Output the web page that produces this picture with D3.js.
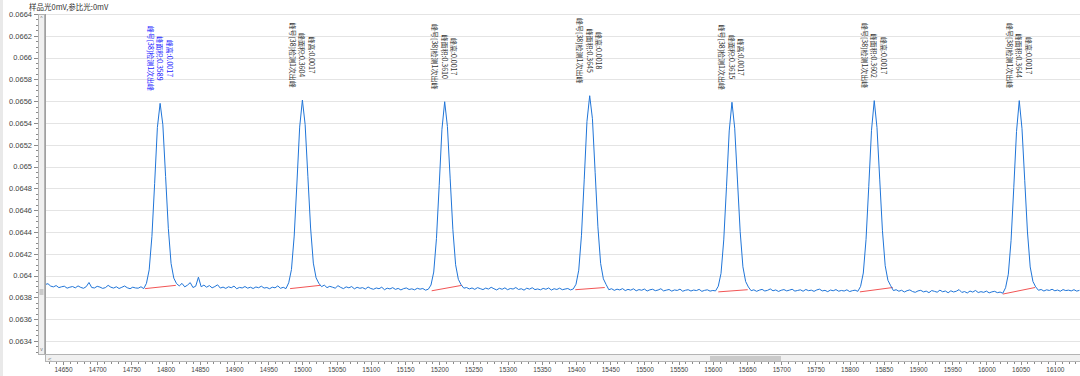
<!DOCTYPE html>
<html>
<head>
<meta charset="utf-8">
<script src="https://cdn.jsdelivr.net/npm/d3@7"></script>
<style>
  body { margin: 0; background: #fff; }
  svg { display: block; font-family: "Liberation Sans", "Noto Sans CJK SC", sans-serif; }
  .axis path, .axis line { stroke: #8a8a8a; shape-rendering: crispEdges; }
  .axis text { fill: #444; }
</style>
</head>
<body>
<div id="chart"></div>
<script>
// detector signal, sampled every 4 units starting at 14624 (values x 1e-6)
const signalStart = 14624;
const signalStep = 4;
const signalE6 = [
  63918,63925,63903,63896,63908,63889,63897,63902,63884,63893,
  63899,63887,63905,63891,63883,63898,63936,63890,63886,63901,
  63894,63882,63889,63910,63893,63885,63897,63881,63892,63904,
  63888,63879,63893,63886,63884,63897,63880,63928,64052,64359,
  64846,65359,65580,65383,64908,64433,64111,63976,63926,63905,
  63928,63896,63912,63935,63890,63902,63985,63897,63912,63893,
  63908,63887,63899,63915,63885,63894,63882,63897,63888,63903,
  63879,63891,63886,63899,63884,63893,63881,63895,63888,63902,
  63885,63890,63879,63893,63887,63905,63883,63892,63880,63934,
  64055,64362,64849,65362,65610,65386,64911,64436,64114,63979,
  63929,63898,63912,63889,63901,63893,63884,63907,63891,63880,
  63896,63887,63899,63878,63892,63883,63889,63876,63895,63881,
  63874,63886,63879,63893,63870,63884,63877,63889,63873,63882,
  63868,63880,63886,63872,63878,63869,63883,63875,63881,63866,
  63874,63913,64032,64340,64828,65342,65595,65368,64894,64420,
  64099,63965,63916,63884,63890,63877,63886,63873,63889,63880,
  63871,63885,63876,63892,63879,63868,63883,63874,63887,63870,
  63881,63876,63890,63872,63879,63866,63884,63875,63888,63871,
  63877,63869,63882,63874,63886,63867,63879,63872,63884,63870,
  63876,63881,63868,63877,63920,64049,64370,64878,65414,65650,
  65439,64943,64447,64111,63970,63918,63870,63879,63864,63875,
  63868,63880,63862,63873,63866,63878,63860,63871,63865,63876,
  63858,63869,63874,63861,63867,63879,63859,63866,63872,63857,
  63868,63863,63875,63856,63865,63870,63858,63867,63862,63873,
  63855,63864,63869,63857,63863,63859,63902,64020,64327,64814,
  65327,65590,65352,64877,64402,64080,63945,63895,63861,63869,
  63855,63866,63873,63858,63864,63877,63860,63868,63854,63865,
  63871,63859,63866,63874,63857,63863,63869,63856,63872,63861,
  63866,63855,63868,63875,63859,63864,63852,63867,63860,63871,
  63856,63863,63858,63869,63853,63861,63866,63855,63900,64023,
  64331,64819,65333,65605,65359,64885,64411,64090,63956,63907,
  63862,63870,63856,63865,63849,63861,63868,63853,63846,63859,
  63864,63850,63857,63843,63862,63855,63847,63866,63851,63858,
  63842,63860,63849,63856,63871,63845,63853,63840,63858,63848,
  63863,63844,63852,63846,63857,63841,63850,63855,63843,63848,
  63838,63888,64012,64320,64808,65322,65605,65348,64874,64400,
  64079,63945,63896,63865,63872,63858,63869,63863,63874,63860,
  63867,63856,63871,63862,63866,63859,63870,63857,63864
];

// peaks
const peakApexX = [14792, 15000, 15208, 15420, 15628, 15836, 16048];
const peakApexY = [0.06558, 0.06561, 0.065595, 0.06565, 0.06559, 0.065605, 0.065605];
const peakNames = ["峰号[38]检测1次出峰", "峰号[38]检测1次出峰", "峰号[38]检测1次出峰", "峰号[38]检测1次出峰",
                   "峰号[38]检测1次出峰", "峰号[38]检测1次出峰", "峰号[38]检测1次出峰"];
const peakAreas = ["0.3589", "0.3604", "0.3610", "0.3645", "0.3615", "0.3602", "0.3644"];
const peakHeights = ["0.0017", "0.0017", "0.0017", "0.0018", "0.0017", "0.0017", "0.0017"];

// baseline segments (red)
const baseStartX = [14770, 14982, 15189, 15399, 15608, 15815, 16024];
const baseStartY = [0.06388, 0.06388, 0.06386, 0.06387, 0.06385, 0.06385, 0.06383];
const baseEndX = [14815, 15026, 15233, 15442, 15651, 15863, 16071];
const baseEndY = [0.06391, 0.06391, 0.06391, 0.06389, 0.06387, 0.06389, 0.06389];

// axis ticks
const yTicks = [0.0634, 0.0636, 0.0638, 0.064, 0.0642, 0.0644, 0.0646, 0.0648,
                0.065, 0.0652, 0.0654, 0.0656, 0.0658, 0.066, 0.0662, 0.0664];
const yTickLabels = ["0.0634", "0.0636", "0.0638", "0.064", "0.0642", "0.0644", "0.0646", "0.0648",
                     "0.065", "0.0652", "0.0654", "0.0656", "0.0658", "0.066", "0.0662", "0.0664"];
const xTicks = [14650, 14700, 14750, 14800, 14850, 14900, 14950, 15000, 15050, 15100,
                15150, 15200, 15250, 15300, 15350, 15400, 15450, 15500, 15550, 15600,
                15650, 15700, 15750, 15800, 15850, 15900, 15950, 16000, 16050, 16100];

const headerText = "样品光0mV,参比光:0mV";

// SETUP
const W = 1080, H = 376;
const plot = { left: 45, right: 1080, top: 14, bottom: 354 };

const svg = d3.select("#chart").append("svg")
    .attr("width", W)
    .attr("height", H);

const x = d3.scaleLinear()
    .domain([14623.7, 16136.8])
    .range([plot.left, plot.right]);

const y = d3.scaleLinear()
    .domain([0.06328, 0.06640])
    .range([plot.bottom, plot.top]);

const signal = signalE6.map((v, i) => ({ x: signalStart + i * signalStep, y: v / 1e6 }));

// left gray strip
svg.append("rect")
    .attr("x", 0).attr("y", 0)
    .attr("width", 3).attr("height", H)
    .attr("fill", "#e9e9e9");

// header
svg.append("text")
    .attr("x", 29)
    .attr("y", 10)
    .attr("font-size", 7.5)
    .attr("font-family", "Noto Sans CJK SC")
    .attr("fill", "#333")
    .text(headerText);

// gridlines
svg.append("g")
    .selectAll("line")
    .data(yTicks)
    .enter()
    .append("line")
    .attr("x1", plot.left)
    .attr("x2", plot.right)
    .attr("y1", d => Math.round(y(d)) + 0.5)
    .attr("y2", d => Math.round(y(d)) + 0.5)
    .attr("stroke", "#e4e4e4");

// plot border
svg.append("line")
    .attr("x1", plot.left + 0.5).attr("x2", plot.left + 0.5)
    .attr("y1", plot.top).attr("y2", plot.bottom)
    .attr("stroke", "#a0a0a0");

// clip
svg.append("clipPath").attr("id", "clip")
    .append("rect")
    .attr("x", plot.left + 1).attr("y", plot.top)
    .attr("width", plot.right - plot.left - 1)
    .attr("height", plot.bottom - plot.top);

const g = svg.append("g").attr("clip-path", "url(#clip)");

// red baselines
g.selectAll(".base")
    .data(baseStartX)
    .enter()
    .append("line")
    .attr("class", "base")
    .attr("x1", (d, i) => x(baseStartX[i]))
    .attr("y1", (d, i) => y(baseStartY[i]))
    .attr("x2", (d, i) => x(baseEndX[i]))
    .attr("y2", (d, i) => y(baseEndY[i]))
    .attr("stroke", "#f25555")
    .attr("stroke-width", 1);

// signal line
g.append("path")
    .datum(signal)
    .attr("d", d3.line().x(d => x(d.x)).y(d => y(d.y)))
    .attr("fill", "none")
    .attr("stroke", "#2075d8")
    .attr("stroke-width", 1);

// peak labels (rotated)
peakApexX.forEach((px, i) => {
    const cx = x(px);
    const cy = y(peakApexY[i]) - 45;
    const color = i === 0 ? "#1a1aff" : "#333";
    const lines = [peakNames[i], "峰面积:" + peakAreas[i], "峰高:" + peakHeights[i]];
    lines.forEach((t, j) => {
        svg.append("text")
            .attr("transform", `translate(${cx + (j - 1) * 9.5},${cy}) rotate(90)`)
            .attr("text-anchor", "middle")
            .attr("dominant-baseline", "central")
            .attr("font-size", 7)
            .attr("font-family", "Noto Sans CJK SC")
            .attr("fill", color)
            .text(t);
    });
});

// vertical scrollbar
svg.append("rect")
    .attr("x", 38.5).attr("y", plot.top + 0.5)
    .attr("width", 6).attr("height", plot.bottom - plot.top)
    .attr("fill", "#f0f0f0")
    .attr("stroke", "#b4b4b4");
svg.append("rect")
    .attr("x", 39.5).attr("y", 289)
    .attr("width", 4).attr("height", 6)
    .attr("fill", "#cacaca");
svg.append("text")
    .attr("x", 41.5).attr("y", 20)
    .attr("text-anchor", "middle")
    .attr("font-size", 5).attr("fill", "#777")
    .text("^");
svg.append("text")
    .attr("x", 41.5).attr("y", 351)
    .attr("text-anchor", "middle")
    .attr("font-size", 5).attr("fill", "#777")
    .text("v");

// horizontal scrollbar
svg.append("rect")
    .attr("x", plot.left + 0.5).attr("y", plot.bottom + 0.5)
    .attr("width", plot.right - plot.left).attr("height", 7)
    .attr("fill", "#f0f0f0")
    .attr("stroke", "#b4b4b4");
svg.append("rect")
    .attr("x", 710).attr("y", plot.bottom + 2)
    .attr("width", 71).attr("height", 5)
    .attr("fill", "#cacaca");
svg.append("text")
    .attr("x", 48).attr("y", plot.bottom + 6.5)
    .attr("font-size", 6).attr("fill", "#777")
    .text("<");

// Y axis
const yAxis = svg.append("g")
    .attr("class", "axis")
    .attr("transform", "translate(38,0)")
    .call(d3.axisLeft(y)
        .tickValues(yTicks)
        .tickFormat((d, i) => yTickLabels[i])
        .tickSize(4)
        .tickPadding(2));
yAxis.select(".domain").remove();
yAxis.selectAll("text").attr("font-size", 7.5);

svg.append("g")
    .attr("class", "axis")
    .attr("transform", "translate(38,0)")
    .call(d3.axisLeft(y)
        .tickValues(d3.range(0.06330, 0.06641, 0.00005))
        .tickFormat("")
        .tickSize(2))
    .select(".domain").remove();

// X axis
const xAxis = svg.append("g")
    .attr("class", "axis")
    .attr("transform", `translate(0,${plot.bottom + 8})`)
    .call(d3.axisBottom(x)
        .tickValues(xTicks)
        .tickFormat(d3.format("d"))
        .tickSize(3)
        .tickPadding(2));
xAxis.select(".domain").remove();
xAxis.selectAll("text").attr("font-size", 6.5);

svg.append("g")
    .attr("class", "axis")
    .attr("transform", `translate(0,${plot.bottom + 8})`)
    .call(d3.axisBottom(x)
        .tickValues(d3.range(14630, 16137, 10))
        .tickFormat("")
        .tickSize(1.5))
    .select(".domain").remove();
</script>
</body>
</html>
